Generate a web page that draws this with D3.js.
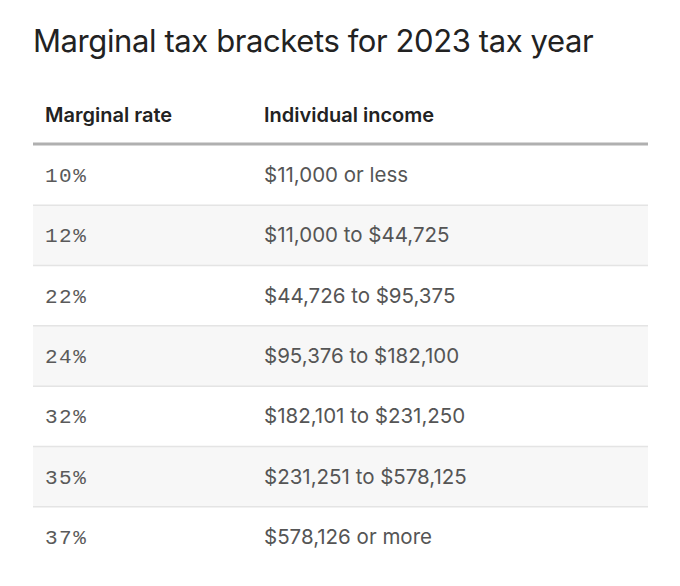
<!DOCTYPE html>
<html>
<head>
<meta charset="utf-8">
<script src="https://cdn.jsdelivr.net/npm/d3@7"></script>
<style>
  body { margin: 0; background: #fff; }
</style>
</head>
<body>
<div id="chart"></div>
<script>
// Layout
const width = 680;
const height = 586;

// Data
const title = "Marginal tax brackets for 2023 tax year";
const columns = ["Marginal rate", "Individual income"];
const rates = ["10%", "12%", "22%", "24%", "32%", "35%", "37%"];
const incomes = [
  "$11,000 or less",
  "$11,000 to $44,725",
  "$44,726 to $95,375",
  "$95,376 to $182,100",
  "$182,101 to $231,250",
  "$231,251 to $578,125",
  "$578,126 or more"
];

const rows = rates.map((r, i) => ({ rate: r, income: incomes[i], i: i }));

// Scales
const y = d3.scaleBand()
  .domain(rows.map(d => d.i))
  .range([145, 567])
  .padding(0);

const x = d3.scalePoint()
  .domain(columns)
  .range([45, 264]);

const svg = d3.select("#chart").append("svg")
  .attr("width", width)
  .attr("height", height)
  .style("font-family", "Inter, 'Noto Sans', sans-serif");

// Title
svg.append("text")
  .attr("x", 33)
  .attr("y", 52)
  .attr("fill", "#222")
  .style("font-size", "31px")
  .style("letter-spacing", "-0.4px")
  .text(title);

// Header
svg.append("g").selectAll("text").data(columns).join("text")
  .attr("x", d => x(d))
  .attr("y", 122)
  .attr("fill", "#222")
  .style("font-size", "20px")
  .style("font-weight", 600)
  .text(d => d);

// Row backgrounds
svg.append("g").selectAll("rect").data(rows).join("rect")
  .attr("x", 33)
  .attr("y", d => y(d.i))
  .attr("width", 648 - 33)
  .attr("height", y.bandwidth())
  .attr("fill", d => d.i % 2 === 1 ? "#f7f7f7" : "#fff");

// Row separators
svg.append("g").selectAll("line").data(rows.slice(1)).join("line")
  .attr("x1", 33)
  .attr("x2", 648)
  .attr("y1", d => y(d.i))
  .attr("y2", d => y(d.i))
  .attr("stroke", "#e4e4e4")
  .attr("stroke-width", 1.5);

// Header rule
svg.append("line")
  .attr("x1", 33)
  .attr("x2", 648)
  .attr("y1", 144)
  .attr("y2", 144)
  .attr("stroke", "#b0b0b0")
  .attr("stroke-width", 3);

// Cells
const cells = svg.append("g");

cells.selectAll("text.rate").data(rows).join("text")
  .attr("class", "rate")
  .attr("x", x(columns[0]))
  .attr("y", d => y(d.i) + y.bandwidth() / 2 + 7)
  .attr("fill", "#5a5a5a")
  .style("font-family", "'Liberation Mono', monospace")
  .style("font-size", "21px")
  .style("letter-spacing", "1.5px")
  .text(d => d.rate);

cells.selectAll("text.income").data(rows).join("text")
  .attr("class", "income")
  .attr("x", x(columns[1]))
  .attr("y", d => y(d.i) + y.bandwidth() / 2 + 7)
  .attr("fill", "#555")
  .style("font-size", "20.5px")
  .text(d => d.income);
</script>
</body>
</html>
